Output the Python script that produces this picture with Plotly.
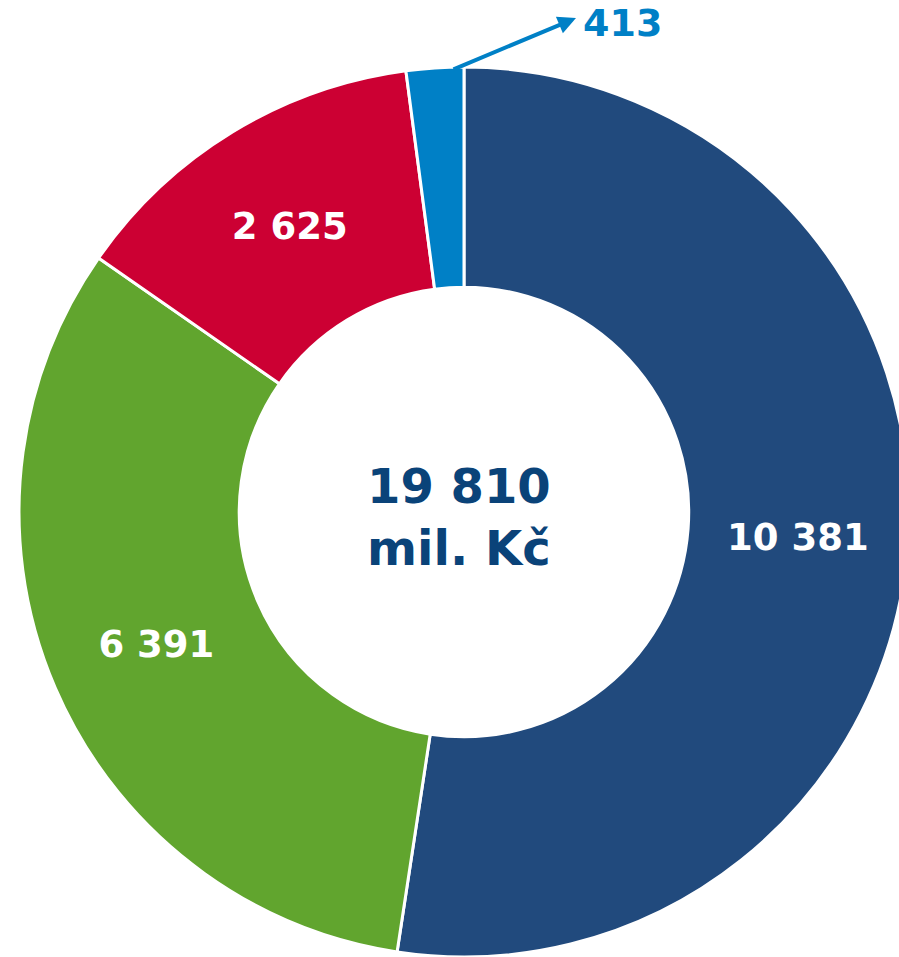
import plotly.graph_objects as go

# Data
categories = ["A", "B", "C", "D"]
values = [10381, 6391, 2625, 413]
colors = ["#214A7D", "#61A52E", "#CC0033", "#0080C6"]
unit = "mil. Kč"

def fmt(v):
    return f"{v:,}".replace(",", " ")

total = sum(values)
texts = [fmt(v) for v in values[:3]] + [""]

W, H = 910, 957
FONT = "DejaVu Sans"

fig = go.Figure(go.Pie(
    labels=categories,
    values=values,
    text=texts,
    textinfo="text",
    textposition="inside",
    insidetextorientation="horizontal",
    sort=False,
    direction="clockwise",
    rotation=0,
    hole=0.505,
    marker=dict(colors=colors, line=dict(color="white", width=3)),
    textfont=dict(family=FONT, size=37, color="white", weight="bold"),
    domain=dict(x=[19 / W, 909 / W], y=[0.0, 890 / H]),
    showlegend=False,
    hoverinfo="label+value",
))

fig.add_annotation(
    x=459 / W, y=(H - 517) / H, xref="paper", yref="paper",
    text=f"<b>{fmt(total)}<br>{unit}</b>",
    showarrow=False, font=dict(family=FONT, size=48, color="#0A4379"),
    xanchor="center", yanchor="middle", align="center",
)

# arrow for small slice
fig.add_annotation(
    x=576 / W, y=(H - 18) / H, xref="paper", yref="paper",
    ax=-124, ay=52, axref="pixel", ayref="pixel",
    text="", showarrow=True, arrowhead=2, arrowsize=0.9, arrowwidth=4,
    arrowcolor=colors[3],
)
fig.add_annotation(
    x=622 / W, y=(H - 23) / H, xref="paper", yref="paper",
    text=f"<b>{fmt(values[3])}</b>", showarrow=False,
    font=dict(family=FONT, size=38, color=colors[3]),
    xanchor="center", yanchor="middle",
)

fig.update_layout(
    width=W, height=H,
    margin=dict(l=0, r=0, t=0, b=0),
    paper_bgcolor="white", plot_bgcolor="white",
)

fig.write_html(
    "out.html",
    config={"displayModeBar": False},
    post_script="document.body.style.margin='0';document.body.style.overflow='hidden';document.documentElement.style.overflow='hidden';",
)
